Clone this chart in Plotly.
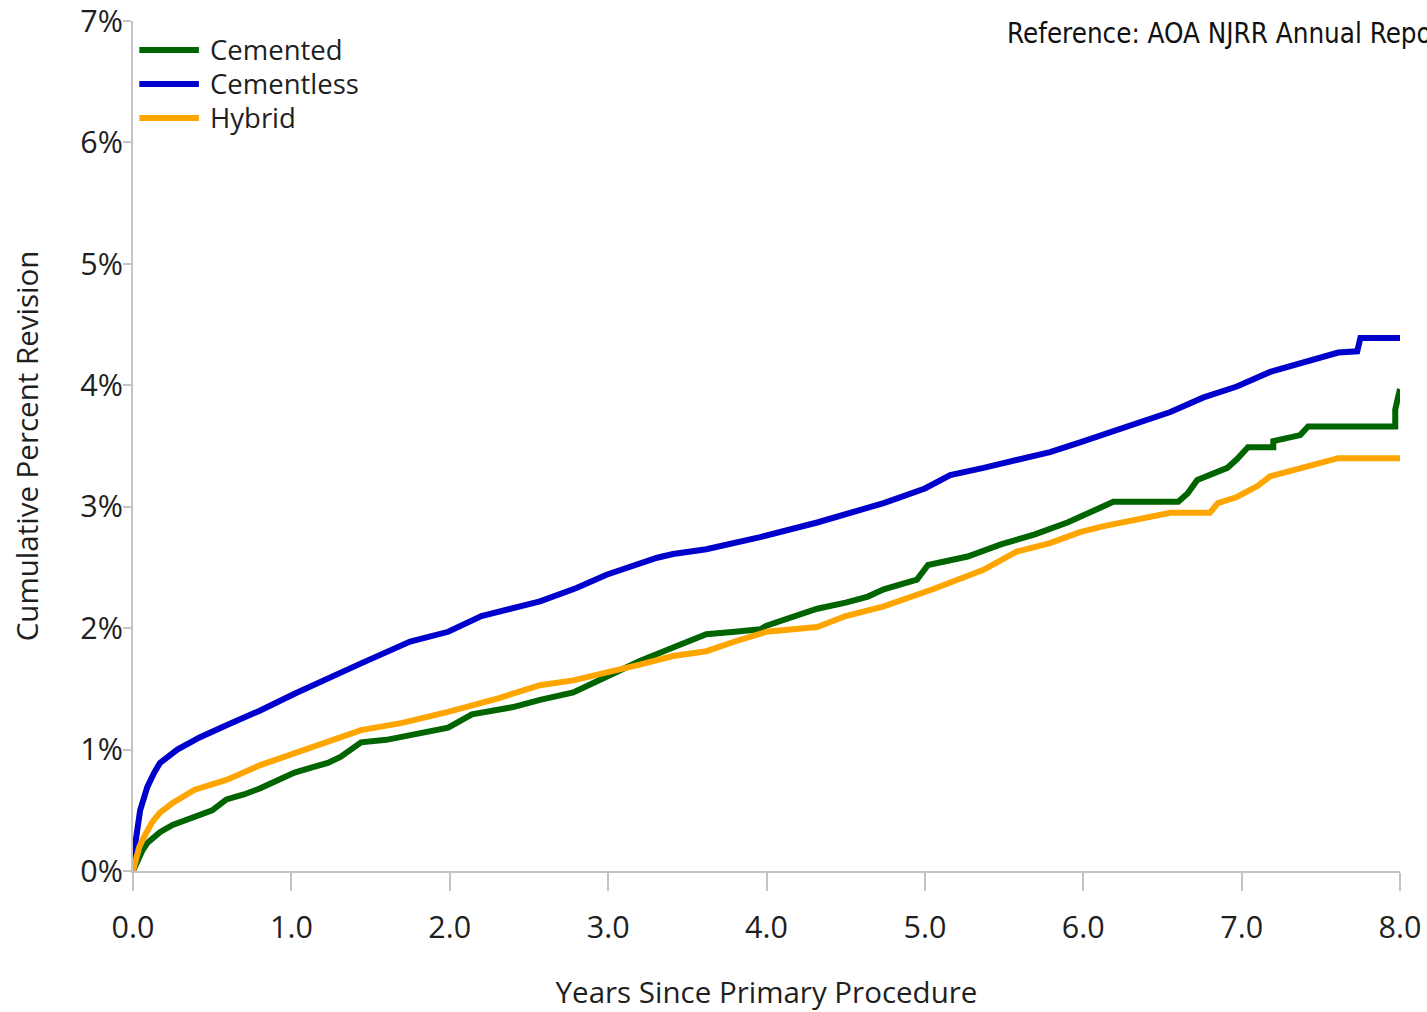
import plotly.graph_objects as go

# Kaplan-Meier style cumulative percent revision by fixation type
series_names = ["Cemented", "Cementless", "Hybrid"]
series_colors = ["#006400", "#0000CD", "#FFA500"]

cemented_years = [0, 0.03, 0.06, 0.09, 0.13, 0.17, 0.25, 0.39, 0.5, 0.59, 0.7, 0.8, 0.9,
                  1.02, 1.12, 1.23, 1.31, 1.44, 1.6, 1.8, 1.99, 2.14, 2.4, 2.57, 2.78, 2.99,
                  3.05, 3.2, 3.41, 3.62, 3.8, 3.96, 4.0, 4.15, 4.32, 4.5, 4.64, 4.74, 4.95,
                  5.02, 5.27, 5.48, 5.69, 5.9, 6.05, 6.19, 6.6, 6.66, 6.72, 6.8, 6.91, 6.97,
                  7.04, 7.2, 7.2, 7.37, 7.42, 7.97, 7.97, 8.0]
cemented_pct = [0, 0.09, 0.17, 0.23, 0.28, 0.32, 0.38, 0.44, 0.5, 0.59, 0.63, 0.68, 0.74,
                0.81, 0.85, 0.89, 0.94, 1.06, 1.08, 1.13, 1.18, 1.29, 1.35, 1.41, 1.47, 1.6,
                1.64, 1.73, 1.84, 1.95, 1.97, 1.99, 2.02, 2.08, 2.16, 2.21, 2.26, 2.32, 2.4,
                2.52, 2.59, 2.69, 2.77, 2.87, 2.96, 3.04, 3.04, 3.11, 3.22, 3.26, 3.32, 3.39,
                3.49, 3.49, 3.54, 3.59, 3.66, 3.66, 3.8, 3.97]

cementless_years = [0, 0.015, 0.045, 0.09, 0.13, 0.17, 0.28, 0.42, 0.59, 0.8, 1.02, 1.2,
                    1.44, 1.75, 1.99, 2.2, 2.57, 2.8, 2.99, 3.31, 3.41, 3.62, 3.83, 3.96,
                    4.32, 4.74, 5.0, 5.16, 5.37, 5.58, 5.79, 5.98, 6.24, 6.55, 6.76, 6.97,
                    7.18, 7.39, 7.61, 7.73, 7.75, 8.0]
cementless_pct = [0, 0.23, 0.5, 0.69, 0.8, 0.89, 1.0, 1.1, 1.2, 1.32, 1.46, 1.57,
                  1.71, 1.89, 1.97, 2.1, 2.22, 2.33, 2.44, 2.58, 2.61, 2.65, 2.71, 2.75,
                  2.87, 3.03, 3.15, 3.26, 3.32, 3.39, 3.45, 3.53, 3.64, 3.78, 3.9, 3.99,
                  4.11, 4.19, 4.27, 4.28, 4.39, 4.39]

hybrid_years = [0, 0.02, 0.04, 0.07, 0.12, 0.17, 0.25, 0.39, 0.5, 0.59, 0.8, 1.02, 1.2,
                1.44, 1.7, 1.99, 2.3, 2.57, 2.78, 2.99, 3.2, 3.41, 3.62, 3.8, 4.0, 4.32,
                4.5, 4.74, 5.05, 5.37, 5.58, 5.79, 5.98, 6.13, 6.34, 6.55, 6.8, 6.85, 6.97,
                7.1, 7.18, 7.35, 7.44, 7.61, 8.0]
hybrid_pct = [0, 0.12, 0.2, 0.28, 0.4, 0.48, 0.56, 0.67, 0.71, 0.75, 0.87, 0.97, 1.06,
              1.16, 1.22, 1.31, 1.42, 1.53, 1.57, 1.63, 1.7, 1.77, 1.81, 1.89, 1.97, 2.01,
              2.1, 2.18, 2.32, 2.48, 2.63, 2.7, 2.79, 2.84, 2.89, 2.95, 2.95, 3.03, 3.08,
              3.17, 3.25, 3.31, 3.35, 3.4, 3.4]

x_tick_vals = [0, 1, 2, 3, 4, 5, 6, 7, 8]
x_tick_text = ["0.0", "1.0", "2.0", "3.0", "4.0", "5.0", "6.0", "7.0", "8.0"]
y_tick_vals = [0, 1, 2, 3, 4, 5, 6, 7]
y_tick_text = ["0%", "1%", "2%", "3%", "4%", "5%", "6%", "7%"]

x_title = "Years Since Primary Procedure"
y_title = "Cumulative Percent Revision"
source_note = "Reference: AOA NJRR Annual Report"

FONT = "Open Sans, Noto Sans, sans-serif"
TEXT_COLOR = "#1f1f1f"
AXIS_COLOR = "#c4c4c4"

fig = go.Figure()
curves = [(cemented_years, cemented_pct), (cementless_years, cementless_pct),
          (hybrid_years, hybrid_pct)]
for name, color, (xs, ys) in zip(series_names, series_colors, curves):
    fig.add_trace(go.Scatter(x=xs, y=ys, mode="lines", name=name,
                             line=dict(color=color, width=6), showlegend=False))

# Hand-drawn key in the top-left corner of the plot area
key_rows = [0.966, 0.926, 0.886]
for name, color, ky in zip(series_names, series_colors, key_rows):
    fig.add_shape(type="line", xref="paper", yref="paper", x0=0.005, x1=0.052,
                  y0=ky, y1=ky, line=dict(color=color, width=6))
    fig.add_annotation(xref="paper", yref="paper", x=0.059, y=ky, text=name,
                       showarrow=False, xanchor="left", yanchor="middle",
                       font=dict(family=FONT, size=27.5, color=TEXT_COLOR))

fig.add_annotation(xref="paper", yref="paper", x=0.688, y=0.986, text=source_note,
                   showarrow=False, xanchor="left", yanchor="middle",
                   font=dict(family="Liberation Sans Narrow, Arial Narrow, DejaVu Sans Condensed, sans-serif",
                             size=27.5, color="#111111"))

fig.update_layout(
    width=1427, height=1012,
    margin=dict(l=133, r=27, t=21, b=141),
    paper_bgcolor="white", plot_bgcolor="white",
    font=dict(family=FONT, size=29.5, color=TEXT_COLOR),
    xaxis=dict(range=[0, 8], tickvals=x_tick_vals, ticktext=x_tick_text, automargin=False,
               showgrid=False, zeroline=False, showline=True, linecolor=AXIS_COLOR,
               linewidth=2, ticks="outside", ticklen=18, tickwidth=2, tickcolor=AXIS_COLOR,
               tickfont=dict(size=30.5), ticklabelstandoff=10, ticklabeloverflow="allow",
               title=dict(text=x_title, font=dict(size=29.5), standoff=42)),
    yaxis=dict(range=[0, 7], tickvals=y_tick_vals, ticktext=y_tick_text, automargin=False,
               showgrid=False, zeroline=False, showline=True, linecolor=AXIS_COLOR,
               linewidth=2, ticks="outside", ticklen=8, tickwidth=2, tickcolor=AXIS_COLOR,
               tickfont=dict(size=30.5), ticklabelstandoff=-6, ticklabeloverflow="allow",
               title=dict(text=y_title, font=dict(size=29.5), standoff=33)),
)

fig.write_html("out.html")
